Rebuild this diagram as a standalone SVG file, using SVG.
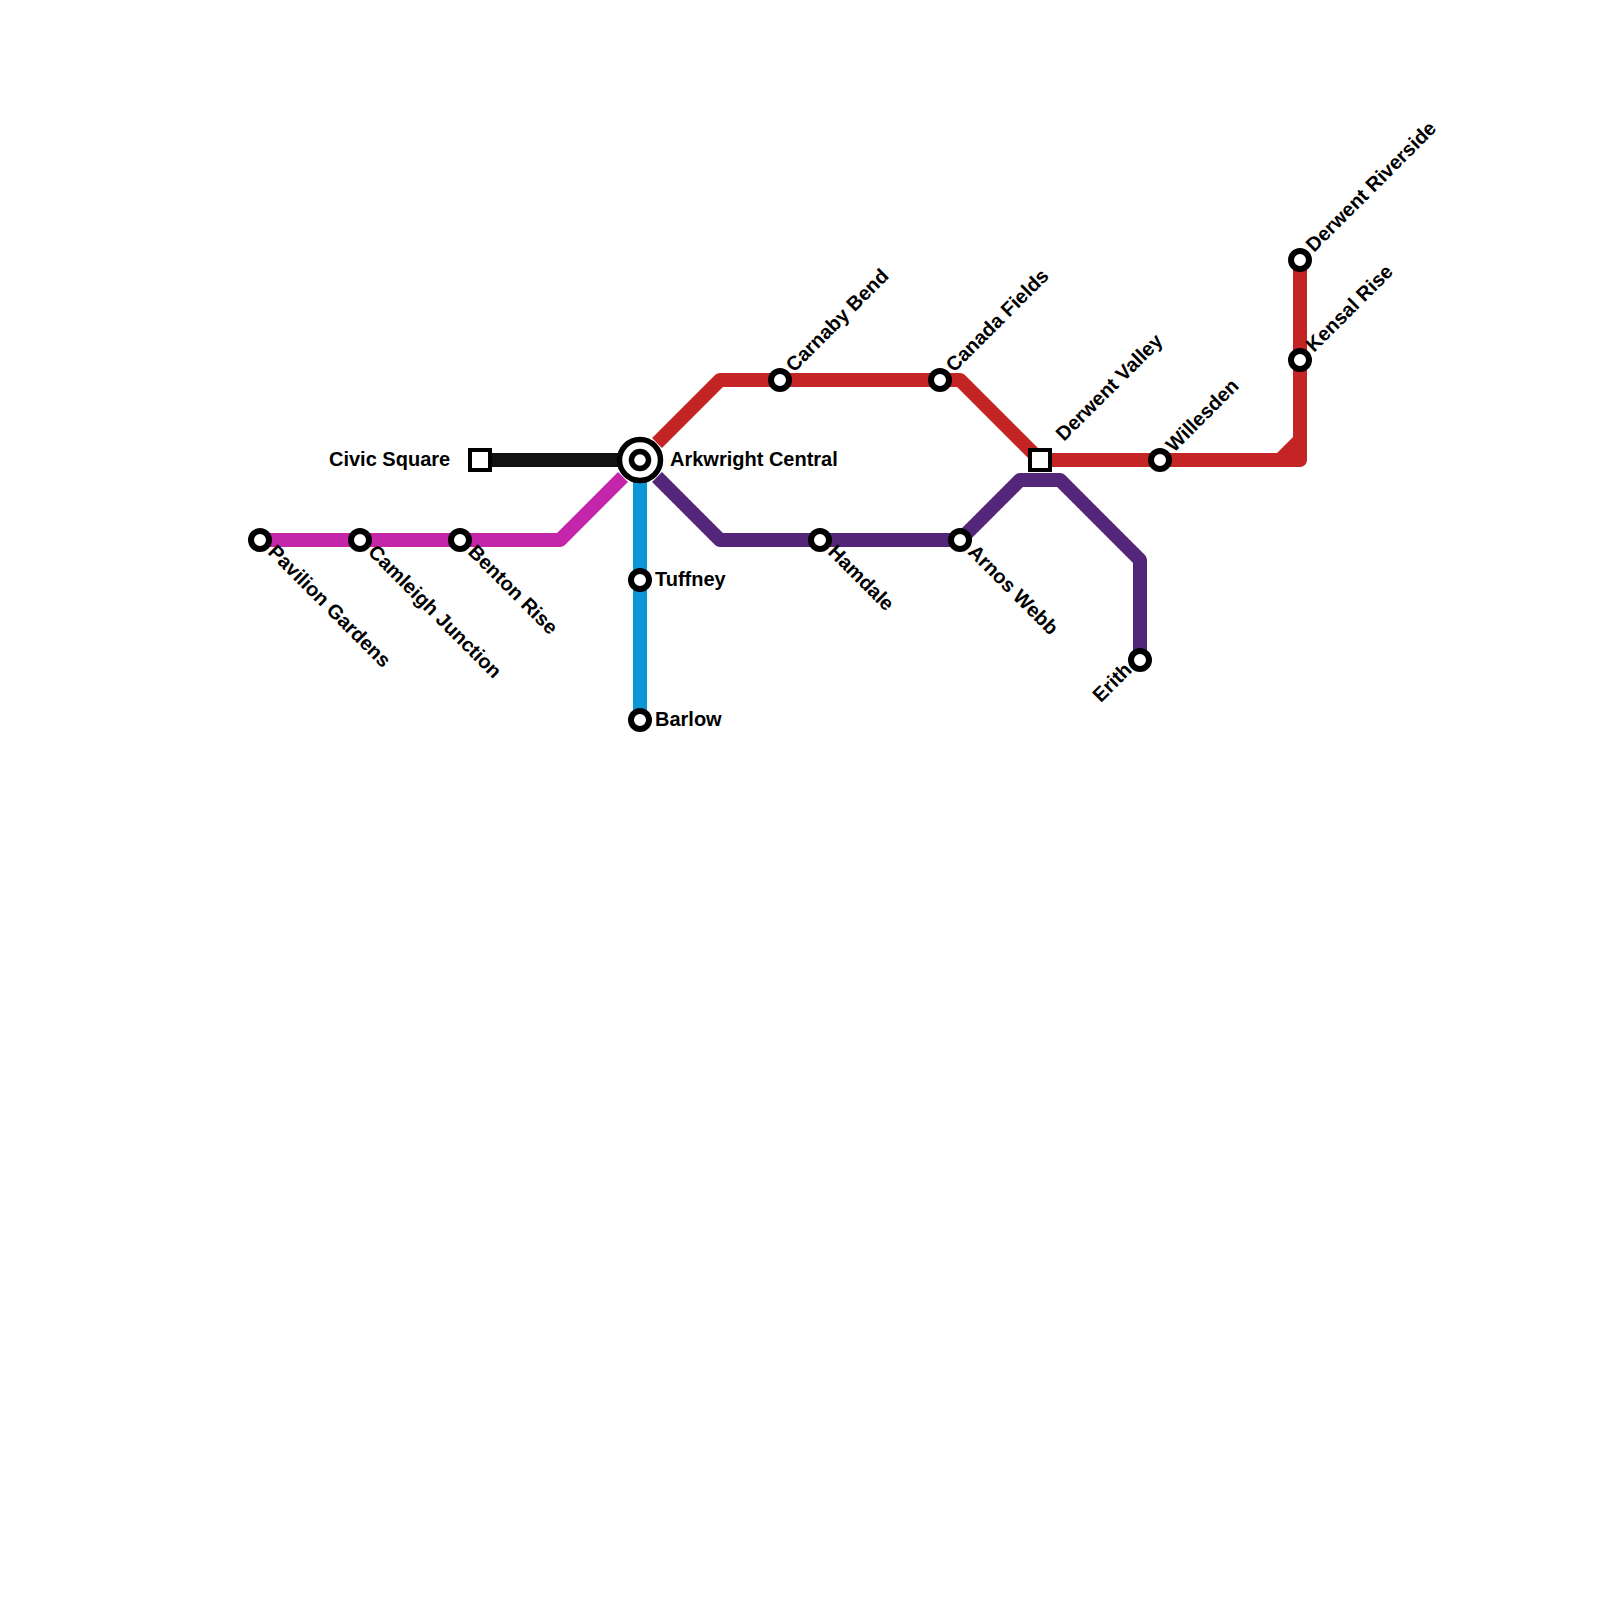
<svg xmlns="http://www.w3.org/2000/svg" width="1600" height="1600" viewBox="0 0 1600 1600">
<style>
.l{fill:none;stroke-width:14;stroke-linejoin:round;stroke-linecap:butt}
.s{fill:#fff;stroke:#000;stroke-width:6}
.q{fill:#fff;stroke:#000;stroke-width:4}
.t{font:bold 20px "Liberation Sans",Arial,sans-serif;fill:#000}
</style>
<rect width="1600" height="1600" fill="#fff"/>
<g id="connectors">
<path class="l" stroke="#111111" d="M480,460H620"/>
<path class="l" stroke="#c525a8" d="M260,540H560L623,477"/>
<path class="l" stroke="#0b96d6" d="M640,480V720"/>
<path class="l" stroke="#c42424" d="M657,443L720,380H960L1040,460H1300V260"/>
<path class="l" stroke="#c42424" d="M1280,460L1300,440"/>
<path class="l" stroke="#53267a" d="M657,477L720,540H960L1020,480H1060L1140,560V660"/>
</g>
<g id="hub"><circle cx="640" cy="460" r="20.5" fill="#fff" stroke="#000" stroke-width="5.5"/><circle cx="640" cy="460" r="8.5" fill="#fff" stroke="#000" stroke-width="5.5"/><text class="t" x="670" y="465.5">Arkwright Central</text></g>
<g id="civic"><rect x="470" y="450" width="20" height="20" class="q"/><text class="t" x="329" y="465.5">Civic Square</text></g>
<g id="pavilion"><circle cx="260" cy="540" r="9" class="s"/><text class="t" transform="translate(267,553) rotate(45)">Pavilion Gardens</text></g>
<g id="camleigh"><circle cx="360" cy="540" r="9" class="s"/><text class="t" transform="translate(367,553) rotate(45)">Camleigh Junction</text></g>
<g id="benton"><circle cx="460" cy="540" r="9" class="s"/><text class="t" transform="translate(467,553) rotate(45)">Benton Rise</text></g>
<g id="tuffney"><circle cx="640" cy="580" r="9" class="s"/><text class="t" x="655" y="585.5">Tuffney</text></g>
<g id="barlow"><circle cx="640" cy="720" r="9" class="s"/><text class="t" x="655" y="725.5">Barlow</text></g>
<g id="carnaby"><circle cx="780" cy="380" r="9" class="s"/><text class="t" transform="translate(794,373) rotate(-45)">Carnaby Bend</text></g>
<g id="canada"><circle cx="940" cy="380" r="9" class="s"/><text class="t" transform="translate(954,373) rotate(-45)">Canada Fields</text></g>
<g id="derwentvalley"><rect x="1030" y="450" width="20" height="20" class="q"/><text class="t" transform="translate(1064,442) rotate(-45)">Derwent Valley</text></g>
<g id="willesden"><circle cx="1160" cy="460" r="9" class="s"/><text class="t" transform="translate(1174,453) rotate(-45)">Willesden</text></g>
<g id="kensal"><circle cx="1300" cy="360" r="9" class="s"/><text class="t" transform="translate(1314,353) rotate(-45)">Kensal Rise</text></g>
<g id="riverside"><circle cx="1300" cy="260" r="9" class="s"/><text class="t" transform="translate(1314,253) rotate(-45)">Derwent Riverside</text></g>
<g id="hamdale"><circle cx="820" cy="540" r="9" class="s"/><text class="t" transform="translate(827,553) rotate(45)">Hamdale</text></g>
<g id="arnos"><circle cx="960" cy="540" r="9" class="s"/><text class="t" transform="translate(967,553) rotate(45)">Arnos Webb</text></g>
<g id="erith"><circle cx="1140" cy="660" r="9" class="s"/><text class="t" text-anchor="end" transform="translate(1133,671) rotate(-45)">Erith</text></g>
</svg>
